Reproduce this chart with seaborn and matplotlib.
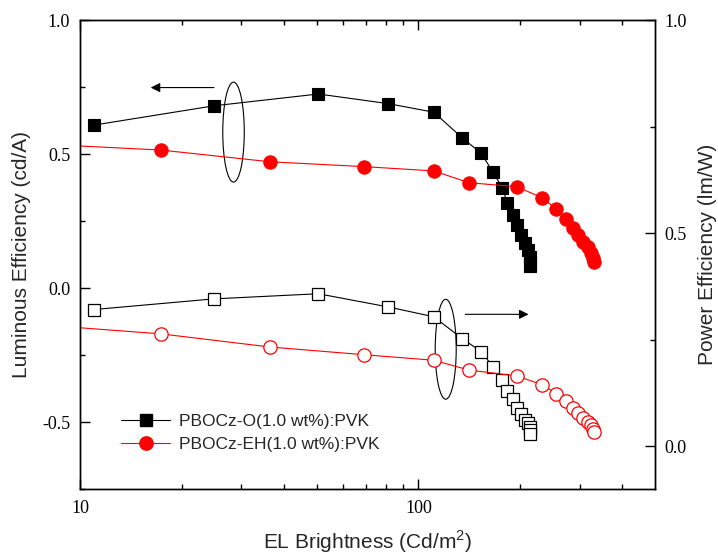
import numpy as np
import pandas as pd
import matplotlib
matplotlib.use('Agg')
import matplotlib.pyplot as plt
import seaborn as sns
from matplotlib.patches import Ellipse
from matplotlib.ticker import FixedLocator, NullFormatter, FuncFormatter, MultipleLocator
from matplotlib.lines import Line2D

# ============================================================================
# DATA
# ============================================================================
# PBOCz-O(1.0 wt%):PVK
bright_o = [11.0, 24.9, 50.6, 81.5, 111, 134.5, 153.5, 166, 177, 183, 190.6,
            195.4, 200.8, 206, 210.5, 213, 214, 214]
le_o = [0.608, 0.680, 0.724, 0.688, 0.656, 0.561, 0.502, 0.432, 0.374, 0.318,
        0.272, 0.235, 0.198, 0.167, 0.142, 0.117, 0.098, 0.082]
pe_o = [0.321, 0.346, 0.358, 0.327, 0.304, 0.253, 0.222, 0.187, 0.155, 0.130,
        0.110, 0.091, 0.075, 0.063, 0.054, 0.046, 0.038, 0.030]

# PBOCz-EH(1.0 wt%):PVK (first point sits just left of the axis)
bright_eh = [8.0, 17.3, 36.5, 69, 111, 141, 195.5, 231.5, 255.6, 273, 286.5,
             296.5, 306, 316, 323, 327, 329]
le_eh = [0.536, 0.515, 0.471, 0.453, 0.437, 0.393, 0.378, 0.337, 0.295, 0.257,
         0.225, 0.198, 0.173, 0.152, 0.129, 0.111, 0.096]
pe_eh = [0.284, 0.264, 0.233, 0.215, 0.202, 0.179, 0.165, 0.145, 0.124, 0.106,
         0.091, 0.079, 0.067, 0.057, 0.049, 0.041, 0.033]

labels = ['PBOCz-O(1.0 wt%):PVK', 'PBOCz-EH(1.0 wt%):PVK']

df_o = pd.DataFrame({'bright': bright_o, 'le': le_o, 'pe': pe_o})
df_eh = pd.DataFrame({'bright': bright_eh, 'le': le_eh, 'pe': pe_eh})

# ============================================================================
# STYLE
# ============================================================================
sns.set_style('ticks')
plt.rcParams['font.family'] = ['Liberation Sans', 'DejaVu Sans']
plt.rcParams['mathtext.fontset'] = 'custom'
plt.rcParams['mathtext.rm'] = 'Liberation Sans'

RED = '#ff0000'
TICK_FAMILY = 'Liberation Serif'
TICK_SIZE = 13

fig = plt.figure(figsize=(7.18, 5.55), dpi=100)
ax = fig.add_axes([0.1114, 0.1189, 0.8009, 0.8450])
ax.set_xscale('log')
ax2 = ax.twinx()

common = dict(estimator=None, sort=False, errorbar=None, linewidth=0.8)

# luminous efficiency (left axis, filled markers)
sns.lineplot(data=df_o, x='bright', y='le', ax=ax, color='black', marker='s',
             markersize=8.8, markerfacecolor='black', markeredgecolor='black',
             markeredgewidth=0.8, **common)
sns.lineplot(data=df_eh, x='bright', y='le', ax=ax, color=RED, marker='o',
             markersize=9.6, markerfacecolor=RED, markeredgecolor=RED,
             markeredgewidth=0.8, **common)

# power efficiency (right axis, open markers)
sns.lineplot(data=df_o, x='bright', y='pe', ax=ax2, color='black', marker='s',
             markersize=8.8, markerfacecolor='white', markeredgecolor='black',
             markeredgewidth=0.9, **common)
sns.lineplot(data=df_eh, x='bright', y='pe', ax=ax2, color=RED, marker='o',
             markersize=9.6, markerfacecolor='white', markeredgecolor=RED,
             markeredgewidth=0.9, **common)

# axes ranges and ticks
ax.set_xlim(10, 500)
ax.set_ylim(-0.75, 1.0)
ax2.set_ylim(-0.1, 1.0)

ax.xaxis.set_major_locator(FixedLocator([10, 100]))
ax.xaxis.set_major_formatter(FuncFormatter(lambda v, p: f'{v:g}'))
ax.xaxis.set_minor_locator(FixedLocator([20, 30, 40, 50, 60, 70, 80, 90, 200, 300, 400]))
ax.xaxis.set_minor_formatter(NullFormatter())
ax.yaxis.set_major_locator(FixedLocator([-0.5, 0.0, 0.5, 1.0]))
ax.yaxis.set_minor_locator(MultipleLocator(0.25))
ax.yaxis.set_major_formatter(FuncFormatter(lambda v, p: f'{v:.1f}'))
ax2.yaxis.set_major_locator(FixedLocator([0.0, 0.5, 1.0]))
ax2.yaxis.set_minor_locator(FixedLocator([0.25, 0.75]))
ax2.yaxis.set_major_formatter(FuncFormatter(lambda v, p: f'{v:.1f}'))

ax.tick_params(axis='both', which='both', direction='in', top=True, right=False,
               colors='black')
ax.tick_params(axis='both', which='major', length=7, width=1.0)
ax.tick_params(axis='both', which='minor', length=3.5, width=1.0)
ax.tick_params(axis='x', which='major', pad=8)
ax.tick_params(axis='y', which='major', pad=7)
ax2.tick_params(axis='y', which='both', direction='in', right=True, colors='black')
ax2.tick_params(axis='y', which='major', length=7, width=1.0, pad=7)
ax2.tick_params(axis='y', which='minor', length=3.5, width=1.0)

for a in (ax, ax2):
    for lab in a.get_xticklabels() + a.get_yticklabels():
        lab.set_fontfamily(TICK_FAMILY)
        lab.set_fontsize(TICK_SIZE)
    for sp in a.spines.values():
        sp.set_visible(True)
        sp.set_linewidth(1.0)
        sp.set_color('black')

ax.set_xlabel('EL Brightness (Cd/m$^2$)', fontsize=15, labelpad=8)
ax.set_ylabel('Luminous Efficiency (cd/A)', fontsize=15, labelpad=8)
ax2.set_ylabel('Power Efficiency (lm/W)', fontsize=15, labelpad=8)

# ellipses and arrows marking which axis each pair belongs to
ax.add_patch(Ellipse((0.267, 0.761), 0.0374, 0.213, transform=ax.transAxes,
                     fill=False, edgecolor='black', linewidth=0.8))
ax.add_patch(Ellipse((0.636, 0.298), 0.0365, 0.213, transform=ax.transAxes,
                     fill=False, edgecolor='black', linewidth=0.8))
ax.annotate('', xy=(0.123, 0.856), xytext=(0.233, 0.856), xycoords='axes fraction',
            arrowprops=dict(arrowstyle='-|>', color='black', lw=0.8,
                            mutation_scale=14, shrinkA=0, shrinkB=0))
ax.annotate('', xy=(0.780, 0.3725), xytext=(0.670, 0.3725), xycoords='axes fraction',
            arrowprops=dict(arrowstyle='-|>', color='black', lw=0.8,
                            mutation_scale=14, shrinkA=0, shrinkB=0))

# legend
handles = [
    Line2D([], [], color='black', lw=0.8, marker='s', markersize=8.8,
           markerfacecolor='black', markeredgecolor='black'),
    Line2D([], [], color=RED, lw=0.8, marker='o', markersize=9.6,
           markerfacecolor=RED, markeredgecolor=RED),
]
ax.legend(handles, labels, loc='lower left', bbox_to_anchor=(0.06, 0.065),
          frameon=False, fontsize=12.5, handlelength=2.8, handletextpad=0.5,
          labelspacing=0.45, borderaxespad=0)

ax2.set_zorder(ax.get_zorder() + 1)
ax2.patch.set_visible(False)

fig.savefig('out.png', dpi=100)
